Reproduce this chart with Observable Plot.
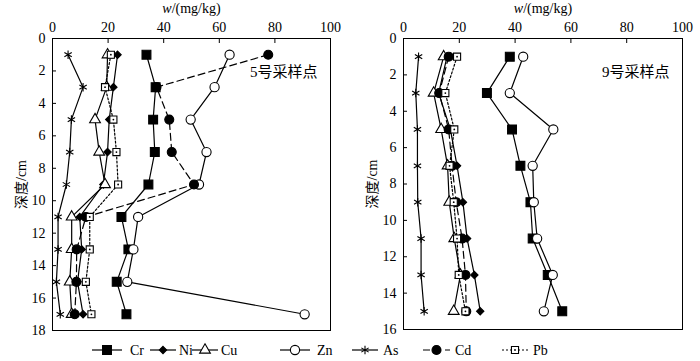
<!DOCTYPE html>
<html><head><meta charset="utf-8">
<script src="https://cdn.jsdelivr.net/npm/d3@7"></script>
<script src="https://cdn.jsdelivr.net/npm/@observablehq/plot@0.6"></script>
<style>
body{margin:0;background:#fff;}
#wrap{position:relative;width:700px;height:361px;font-family:"Liberation Serif","Times New Roman","Noto Sans CJK SC",serif;}
#p5{position:absolute;left:0;top:0}
#p9{position:absolute;left:350px;top:0}
#legend{position:absolute;left:0;top:340px;width:700px;height:21px}
</style></head><body>
<div id="wrap"><div id="p5"></div><div id="p9"></div><div id="legend"></div></div>
<script>
// ---- data ----
const elements = ["Cr","Ni","Cu","Zn","As","Cd","Pb"];
const xTicks = [0,20,40,60,80,100];
const yTicks5 = [0,2,4,6,8,10,12,14,16,18];
const yTicks9 = [0,2,4,6,8,10,12,14,16];
const siteLabels = ["5号采样点","9号采样点"];

const depth5 = [1,3,5,7,9,11,13,15,17];
const cr5 = [33.8,37.1,36.2,36.8,34.5,24.8,27.3,23.1,26.6];
const ni5 = [23.4,21.9,20.4,19.8,18.3,9.8,10.5,9.0,11.0];
const cu5 = [19.8,19.5,15.3,16.8,18.9,6.9,6.9,6.2,6.9];
const zn5 = [63.7,58.3,49.7,55.4,52.7,30.8,29.1,26.9,90.7];
const as5 = [5.6,11.0,6.8,6.2,5.0,2.0,2.0,1.4,2.8];
const cd5 = [77.6,37.4,42.0,42.9,50.9,12.0,8.7,8.6,8.0];
const pb5 = [21.0,18.9,21.9,23.0,23.6,13.4,13.4,12.0,14.0];

const depth9 = [1,3,5,7,9,11,13,15];
const cr9 = [38.1,29.9,38.9,41.9,45.5,46.3,51.7,56.9];
const ni9 = [15.6,12.6,16.8,19.2,21.3,22.8,25.4,27.5];
const cu9 = [14.4,10.8,13.5,15.8,16.4,18.2,20.4,18.0];
const zn9 = [42.9,38.1,53.7,46.3,46.7,47.9,53.5,50.3];
const as9 = [5.4,4.4,5.0,5.0,5.1,6.3,6.3,7.4];
const cd9 = [16.2,12.8,16.2,17.4,18.9,21.0,22.2,22.5];
const pb9 = [19.2,15.0,18.2,16.5,18.0,19.2,19.8,22.2];

// ---- styles ----
const styles = {
  Cr:{symbol:"square",fill:"black",r:5,dash:null},
  Ni:{symbol:"diamond2",fill:"black",r:3.3,dash:null},
  Cu:{symbol:"triangle",fill:"white",r:4,dash:null},
  Zn:{symbol:"circle",fill:"white",r:4.6,dash:null},
  As:{symbol:"asterisk",fill:"none",r:4,dash:null},
  Cd:{symbol:"circle",fill:"black",r:4.5,dash:"7,4"},
  Pb:{symbol:"square",fill:"white",r:4,dash:"2,2"}
};
const FONT = '"Liberation Serif","Times New Roman","Noto Sans CJK SC",serif';

function table(depths, series){
  const rows = [];
  elements.forEach((e,i)=>depths.forEach((d,j)=>rows.push({el:e, depth:d, w:series[i][j]})));
  return rows;
}

function makePlot(rows, yMax, yTicks, site, m){
  const marks = [Plot.frame({stroke:"black", strokeWidth:1})];
  marks.push(Plot.axisX({anchor:"top", ticks:xTicks, tickSize:-4, tickPadding:11,
    label:"w/(mg/kg)", labelAnchor:"center", labelOffset:35, labelArrow:"none"}));
  marks.push(Plot.axisY({anchor:"left", ticks:yTicks, tickSize:-4, tickPadding:11,
    label:"深度/cm", labelAnchor:"center", labelOffset:36, labelArrow:"none"}));
  for (const e of elements){
    const s = styles[e];
    const d = rows.filter(r=>r.el===e);
    marks.push(Plot.line(d,{x:"w", y:"depth", stroke:"black", strokeWidth:1.2,
      strokeDasharray:s.dash || undefined}));
  }
  for (const e of elements){
    const s = styles[e];
    const d = rows.filter(r=>r.el===e);
    marks.push(Plot.dot(d,{x:"w", y:"depth", symbol:()=>s.symbol, r:s.r,
      fill:s.fill, stroke:"black", strokeWidth:1.1}));
    if (e==="Pb") marks.push(Plot.dot(d,{x:"w", y:"depth", r:0.9, fill:"black", stroke:"none"}));
  }
  marks.push(Plot.text([site],{frameAnchor:"top-right", dx:-13, dy:34, text:d=>d,
    fontSize:15, fill:"black", lineAnchor:"middle"}));
  return Plot.plot({
    width:350, height:340,
    marginLeft:m.l, marginRight:m.r, marginTop:38, marginBottom:m.b,
    style:{fontFamily:FONT, fontSize:"14px", color:"black", background:"white", overflow:"visible"},
    x:{domain:[0,100]},
    y:{domain:[0,yMax], reverse:true},
    symbol:{type:"identity"},
    marks
  });
}

function italicW(svg){
  svg.querySelectorAll("text").forEach(t=>{
    if (t.textContent.trim()==="w/(mg/kg)"){
      const target = t.querySelector("tspan") || t;
      target.textContent = "";
      const a = document.createElementNS("http://www.w3.org/2000/svg","tspan");
      a.setAttribute("font-style","italic"); a.textContent="w";
      const b = document.createElementNS("http://www.w3.org/2000/svg","tspan");
      b.textContent="/(mg/kg)";
      target.appendChild(a); target.appendChild(b);
    }
  });
}

const p5 = makePlot(table(depth5,[cr5,ni5,cu5,zn5,as5,cd5,pb5]), 18, yTicks5, siteLabels[0], {l:52,r:20,b:10});
const p9 = makePlot(table(depth9,[cr9,ni9,cu9,zn9,as9,cd9,pb9]), 16, yTicks9, siteLabels[1], {l:53,r:18,b:11});
italicW(p5); italicW(p9);
document.getElementById("p5").appendChild(p5);
document.getElementById("p9").appendChild(p9);

// ---- legend (layout) ----
const legendLine = [[92,122],[150,176],[192,218],[280,310],[352,378],[423,450],[502,528]];
const legendTextX = [130,179,221,317,383,455,533];
const lsvg = d3.select("#legend").append("svg").attr("width",700).attr("height",21)
  .style("font-family",FONT).style("font-size","14px");
const symMap = {square:d3.symbolSquare, diamond2:d3.symbolDiamond2, triangle:d3.symbolTriangle,
  circle:d3.symbolCircle, asterisk:d3.symbolAsterisk};
elements.forEach((e,i)=>{
  const s = styles[e], [x0,x1] = legendLine[i], y0 = 10, xm = (x0+x1)/2;
  const g = lsvg.append("g");
  g.append("line").attr("x1",x0).attr("x2",x1).attr("y1",y0).attr("y2",y0)
    .attr("stroke","black").attr("stroke-width",1.2).attr("stroke-dasharray",s.dash);
  g.append("path").attr("d",d3.symbol(symMap[s.symbol], Math.PI*s.r*s.r)())
    .attr("transform",`translate(${xm},${y0})`)
    .attr("fill",s.fill).attr("stroke","black").attr("stroke-width",1.1);
  if (e==="Pb") g.append("circle").attr("cx",xm).attr("cy",y0).attr("r",0.9).attr("fill","black");
  g.append("text").attr("x",legendTextX[i]).attr("y",y0).attr("dy","0.35em").text(e);
});
</script>
</body></html>
